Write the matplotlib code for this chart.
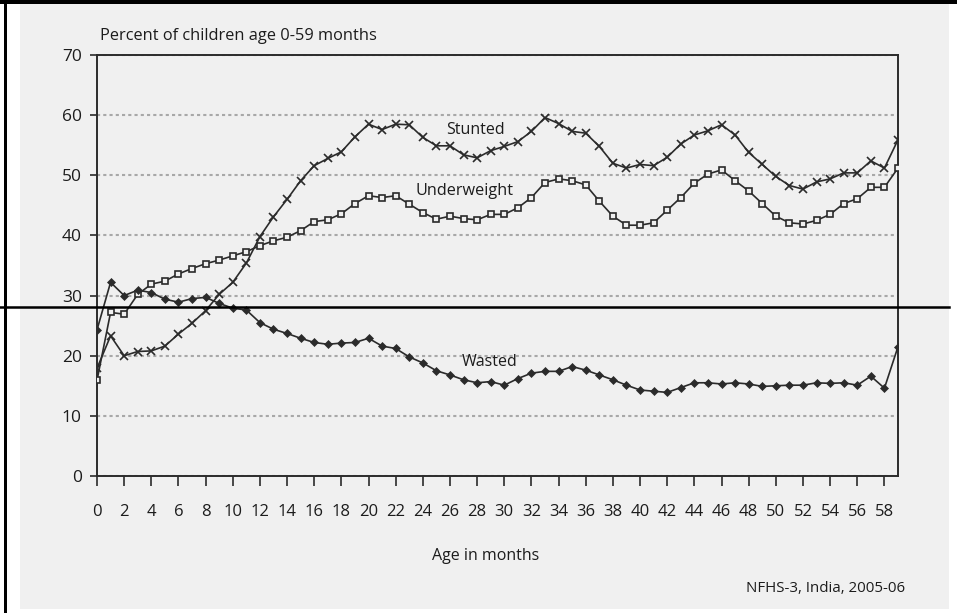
import numpy as np
import matplotlib
matplotlib.use("Agg")
import matplotlib.pyplot as plt
import matplotlib.patches as patches
from matplotlib.lines import Line2D

plt.rcParams['font.family'] = ['Open Sans', 'DejaVu Sans']

months = list(range(60))

stunted = [17.9, 23.3, 20.0, 20.7, 20.8, 21.6, 23.6, 25.4, 27.5, 30.2,
           32.2, 35.4, 39.8, 43.1, 46.0, 49.1, 51.6, 52.8, 53.9, 56.4,
           58.5, 57.6, 58.5, 58.4, 56.3, 54.9, 54.9, 53.4, 52.9, 54.1,
           54.8, 55.6, 57.3, 59.6, 58.6, 57.3, 57.0, 54.8, 52.0, 51.2,
           51.8, 51.6, 53.0, 55.2, 56.7, 57.4, 58.4, 56.7, 53.8, 51.8,
           49.8, 48.3, 47.7, 48.9, 49.4, 50.4, 50.4, 52.4, 51.2, 55.9]

underweight = [15.9, 27.2, 26.9, 30.2, 31.9, 32.4, 33.6, 34.5, 35.3, 35.9,
               36.6, 37.3, 38.3, 39.1, 39.7, 40.8, 42.3, 42.6, 43.6, 45.3,
               46.6, 46.3, 46.6, 45.2, 43.8, 42.7, 43.2, 42.8, 42.6, 43.5,
               43.5, 44.6, 46.3, 48.8, 49.4, 49.1, 48.4, 45.7, 43.2, 41.7,
               41.7, 42.1, 44.2, 46.3, 48.7, 50.2, 50.9, 49.1, 47.4, 45.3,
               43.2, 42.1, 41.9, 42.5, 43.5, 45.3, 46.1, 48.0, 48.0, 51.2]

wasted = [24.3, 32.2, 30.0, 30.9, 30.5, 29.4, 28.9, 29.5, 29.7, 28.7,
          27.9, 27.6, 25.5, 24.4, 23.7, 22.9, 22.2, 21.9, 22.1, 22.2,
          22.9, 21.6, 21.2, 19.8, 18.8, 17.5, 16.8, 16.0, 15.5, 15.7,
          15.1, 16.2, 17.1, 17.4, 17.4, 18.2, 17.6, 16.8, 16.0, 15.1,
          14.3, 14.1, 13.9, 14.7, 15.5, 15.5, 15.3, 15.5, 15.3, 14.9,
          15.0, 15.1, 15.1, 15.5, 15.4, 15.5, 15.1, 16.6, 14.6, 21.5]

x_ticks = list(range(0, 59, 2))
y_ticks = [0, 10, 20, 30, 40, 50, 60, 70]

W, H = 957, 613
bg = '#f0f0f0'
ink = '#2b2b2b'
txt = '#1c1c1c'

fig = plt.figure(figsize=(W / 100, H / 100), dpi=100)
fig.patch.set_facecolor('white')

def px(x, y):
    return x / W, 1 - y / H

# gray panel and black frame
fig.patches.append(patches.Rectangle(px(20, 609), 929 / W, 605 / H,
                                     transform=fig.transFigure, facecolor=bg,
                                     edgecolor='none', zorder=-2))
fig.patches.append(patches.Rectangle(px(0, 4), 1, 4 / H, transform=fig.transFigure,
                                     facecolor='black', edgecolor='none', zorder=-1))
fig.patches.append(patches.Rectangle(px(4, 613), 3 / W, 1, transform=fig.transFigure,
                                     facecolor='black', edgecolor='none', zorder=-1))

left, right, top, bottom = 97, 898, 55, 476
ax = fig.add_axes([left / W, 1 - bottom / H, (right - left) / W, (bottom - top) / H])
ax.set_facecolor(bg)

ax.plot(months, stunted, color=ink, lw=1.2, marker='x', ms=6, mew=1.2, zorder=3)
ax.plot(months, underweight, color=ink, lw=1.2, marker='s', ms=5, mew=1.2,
        mfc=bg, mec=ink, zorder=3)
ax.plot(months, wasted, color=ink, lw=1.2, marker='D', ms=4.5, mew=0.5,
        mfc=ink, mec=ink, zorder=3)

ax.set_xlim(0, 59)
ax.set_ylim(0, 70)
ax.set_xticks(x_ticks)
ax.set_yticks(y_ticks)
ax.tick_params(axis='x', length=7, width=1.2, pad=13, labelsize=12, colors=ink,
               labelcolor=txt)
ax.tick_params(axis='y', length=5, width=1.2, pad=6, labelsize=12.5, colors=ink,
               labelcolor=txt)
for s in ax.spines.values():
    s.set_color(ink)
    s.set_linewidth(1.4)
ax.yaxis.grid(True, color='#a8a8a8', lw=1.5, ls=(0, (1.5, 1.5)))
ax.set_axisbelow(True)

ax.text(27.9, 57.6, 'Stunted', ha='center', va='center', fontsize=11.5, color=txt)
ax.text(27.1, 47.4, 'Underweight', ha='center', va='center', fontsize=11.7, color=txt)
ax.text(28.9, 18.9, 'Wasted', ha='center', va='center', fontsize=11.5, color=txt)

fig.text(*px(100, 44), 'Percent of children age 0-59 months', ha='left', va='bottom',
         fontsize=11.8, color=txt)
fig.text(*px(486, 556), 'Age in months', ha='center', va='center', fontsize=11.5,
         color=txt)
fig.text(*px(905, 588), 'NFHS-3, India, 2005-06', ha='right', va='center',
         fontsize=10.8, color=txt)

# stray horizontal rule across the image
fig.lines.append(Line2D([0, 949 / W], [1 - 307 / H] * 2, transform=fig.transFigure,
                        color='black', lw=1.8, zorder=10))

fig.savefig('out.png', dpi=100, facecolor='white')
